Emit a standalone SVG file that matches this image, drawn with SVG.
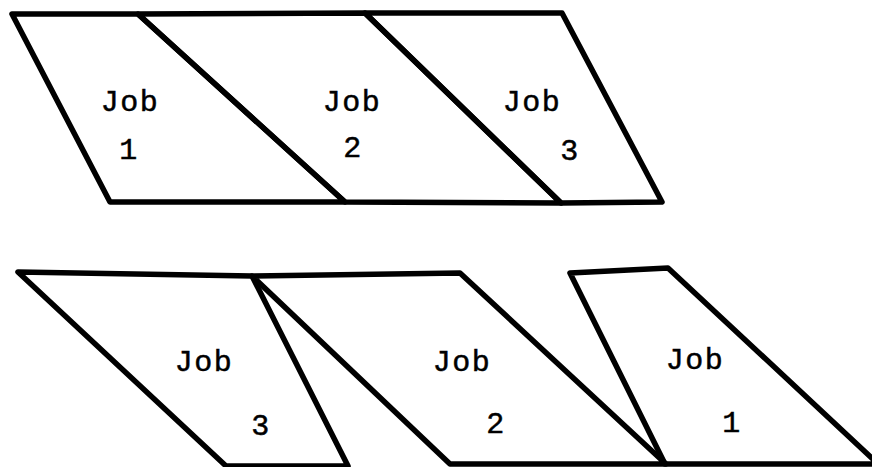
<svg xmlns="http://www.w3.org/2000/svg" width="872" height="467" viewBox="0 0 872 467">
<style>
.s{fill:none;stroke:#000;stroke-width:5.5;stroke-linejoin:round;stroke-linecap:round}
.t{font-family:"Liberation Mono","DejaVu Sans Mono",monospace;font-size:30px;fill:#000;stroke:#000;stroke-width:0.5;text-anchor:middle;letter-spacing:1.5px}
</style>
<rect width="872" height="467" fill="#fff"/>
<g id="top-job1">
<polygon class="s" points="12,14 138,14 345,202 110,202"/>
<text class="t" x="130" y="111">Job</text>
<text class="t" x="129" y="159">1</text>
</g>
<g id="top-job2">
<polygon class="s" points="138,14 365,13 561,203 345,202"/>
<text class="t" x="352" y="111">Job</text>
<text class="t" x="353" y="157">2</text>
</g>
<g id="top-job3">
<polygon class="s" points="365,13 562,13 662,202 561,203"/>
<text class="t" x="532" y="111">Job</text>
<text class="t" x="570" y="160">3</text>
</g>
<g id="bottom-job3">
<polygon class="s" points="18,272 252,276 348,466 226,466"/>
<text class="t" x="204" y="371">Job</text>
<text class="t" x="261" y="435">3</text>
</g>
<g id="bottom-job2">
<polygon class="s" points="252,276 460,273 666,464 450,464"/>
<text class="t" x="462" y="371">Job</text>
<text class="t" x="496" y="433">2</text>
</g>
<g id="bottom-job1">
<polygon class="s" points="570,273 668,268 874,460 874,464 665,464"/>
<text class="t" x="695" y="369">Job</text>
<text class="t" x="732" y="432">1</text>
</g>
<g id="connectors"/>
</svg>
